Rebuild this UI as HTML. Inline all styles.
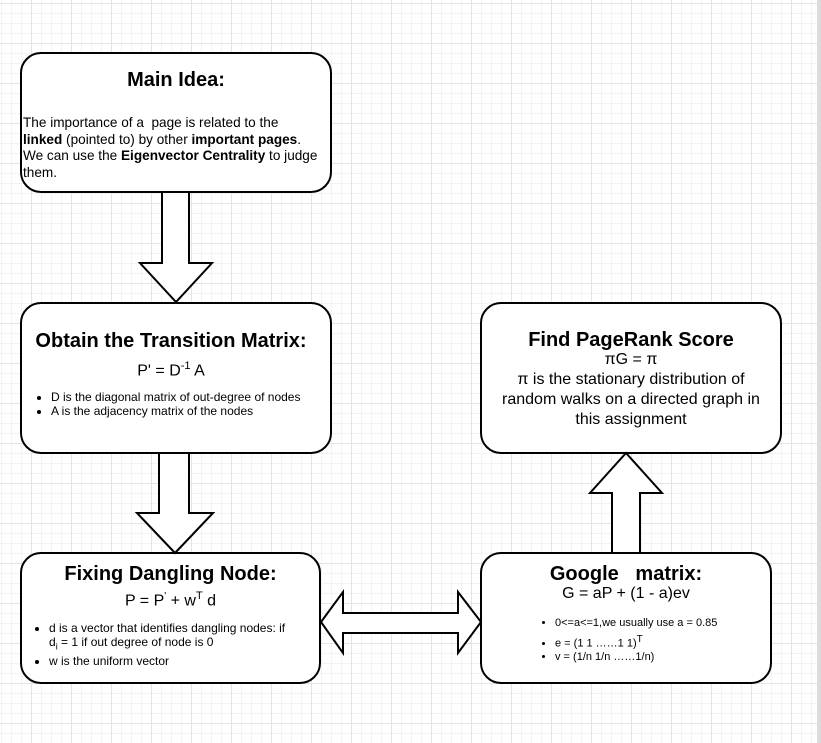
<!DOCTYPE html>
<html><head><meta charset="utf-8"><style>
body{margin:0;width:821px;height:743px;overflow:hidden;position:relative;font-family:"Liberation Sans",Arial,sans-serif;color:#000;
background-color:#fff;
background-image:linear-gradient(to right,#e4e4e4 1px,transparent 1px),linear-gradient(to bottom,#e4e4e4 1px,transparent 1px),linear-gradient(to right,#f3f3f3 1px,transparent 1px),linear-gradient(to bottom,#f3f3f3 1px,transparent 1px);
background-size:40px 40px,40px 40px,10px 10px,10px 10px;
background-position:31px 3px,31px 3px,1px 3px,1px 3px;}
svg{position:absolute;left:0;top:0}
.t{position:absolute;font-size:12px;line-height:14px}
ul{margin:0;padding-left:30px}
li{margin:0}
.c{text-align:center}
</style></head><body>
<div style="position:absolute;right:0;top:0;width:4px;height:743px;background:#dcdcdc"></div>
<svg width="821" height="743">
<g fill="#fff" stroke="#000" stroke-width="2">
<rect x="21" y="53" width="310" height="139" rx="20"/>
<rect x="21" y="303" width="310" height="150" rx="20"/>
<rect x="481" y="303" width="300" height="150" rx="20"/>
<rect x="21" y="553" width="299" height="130" rx="20"/>
<rect x="481" y="553" width="290" height="130" rx="20"/>
<polygon points="162,192 189,192 189,263 212,263 176,302 140,263 162,263"/>
<polygon points="159,453 189,453 189,513 213,513 175,553 137,513 159,513"/>
<polygon points="612,553 640,553 640,493 662,493 626,453 590,493 612,493"/>
<polygon points="321,622 343,592 343,613 458,613 458,592 481,622 458,653 458,633 343,633 343,653"/>
</g>
</svg>
<div class="t c" style="left:21px;top:68px;width:310px;font-size:20px;line-height:24px;font-weight:bold">Main Idea:</div>
<div class="t" style="left:23px;top:115px;width:306px;font-size:13.6px;line-height:16.5px;white-space:nowrap">The importance of a&nbsp; page is related to the<br><b>linked</b> (pointed to) by other <b>important pages</b>.<br>We can use the <b>Eigenvector Centrality</b> to judge<br>them.</div>

<div class="t c" style="left:21px;top:329px;width:300px;font-size:20px;line-height:24px;font-weight:bold">Obtain the Transition Matrix:</div>
<div class="t c" style="left:21px;top:356px;width:300px;font-size:16px;line-height:20px">P' = D<sup style="font-size:11px">-1</sup> A</div>
<div class="t" style="left:21px;top:390px;width:310px"><ul><li>D is the diagonal matrix of out-degree of nodes</li><li>A is the adjacency matrix of the nodes</li></ul></div>

<div class="t c" style="left:481px;top:328px;width:300px;font-size:20px;line-height:24px;font-weight:bold">Find PageRank Score</div>
<div class="t c" style="left:496px;top:350px;width:270px;font-size:16px;line-height:20px">πG = π<br>π is the stationary distribution of random walks on a directed graph in this assignment</div>

<div class="t c" style="left:21px;top:562px;width:299px;font-size:20px;line-height:24px;font-weight:bold">Fixing Dangling Node:</div>
<div class="t c" style="left:21px;top:586px;width:299px;font-size:16px;line-height:20px">P = P<sup style="font-size:10px">'</sup> + w<sup style="font-size:11px">T</sup> d</div>
<div class="t" style="left:19px;top:621px;width:295px;white-space:nowrap"><ul><li>d is a vector that identifies dangling nodes: if<br>d<sub style="font-size:9px">i</sub> = 1 if out degree of node is 0</li><li style="margin-top:1px">w is the uniform vector</li></ul></div>

<div class="t c" style="left:481px;top:562px;width:290px;font-size:20px;line-height:24px;font-weight:bold">Google&nbsp;&nbsp; matrix:</div>
<div class="t c" style="left:481px;top:584px;width:290px;font-size:16px;line-height:20px">G = aP + (1 - a)ev</div>
<div class="t" style="left:555px;top:617px;width:215px;font-size:11px;line-height:13px"><ul style="padding-left:0;list-style-position:outside"><li>0&lt;=a&lt;=1,we usually use a = 0.85</li><li style="margin-top:3px">e = (1 1 ……1 1)<sup style="font-size:10px">T</sup></li><li>v = (1/n 1/n ……1/n)</li></ul></div>
</body></html>
